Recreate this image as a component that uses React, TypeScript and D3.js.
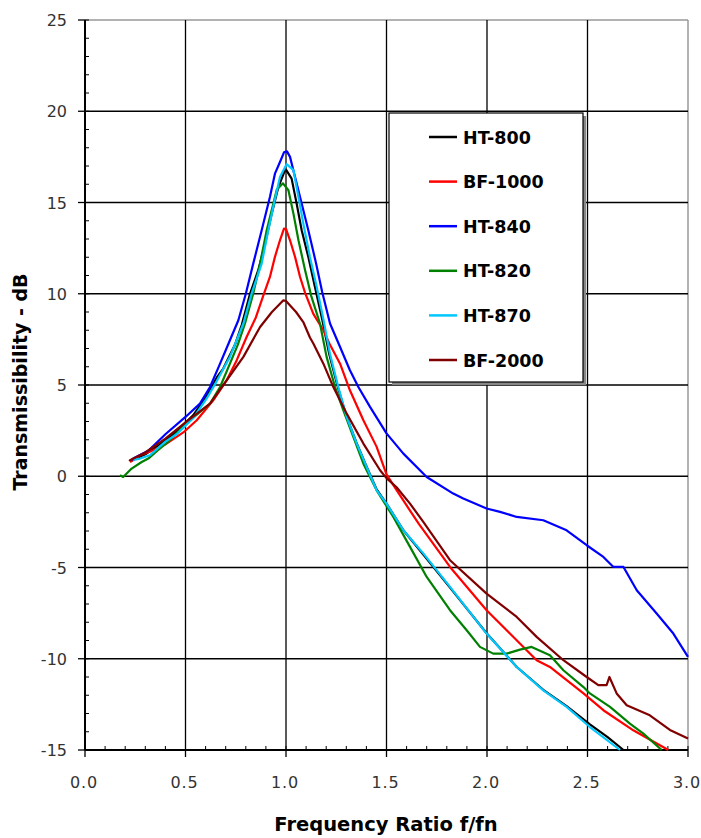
import React from "react";
import * as d3 from "d3";

type Pt = [number, number];

const seriesNames = ["HT-800", "BF-1000", "HT-840", "HT-820", "HT-870", "BF-2000"];
const seriesColors = ["#000000", "#ff0000", "#0000ff", "#008000", "#00c8ff", "#800000"];

const ht800: Pt[] = [
  [0.23, 0.85], [0.3, 1.2], [0.373, 1.75], [0.456, 2.45], [0.539, 3.35], [0.605, 4.4], [0.655, 5.4],
  [0.688, 5.9], [0.746, 7.2], [0.78, 8.3], [0.821, 10.0], [0.862, 11.29], [0.896, 12.75],
  [0.929, 14.39], [0.962, 15.85], [0.995, 16.77], [1.0, 16.8], [1.028, 16.31], [1.053, 14.94],
  [1.078, 13.48], [1.111, 12.02], [1.144, 10.37], [1.18, 8.6], [1.215, 6.7], [1.255, 5.0],
  [1.3, 3.3], [1.35, 1.85], [1.4, 0.55], [1.45, -0.7], [1.5, -1.5], [1.584, -2.96], [1.684, -4.3],
  [1.816, -6.1], [1.998, -8.6], [2.148, -10.45], [2.28, -11.7], [2.396, -12.6], [2.512, -13.6],
  [2.6, -14.3], [2.679, -15],
];

const bf1000: Pt[] = [
  [0.224, 0.78], [0.274, 1.15], [0.34, 1.42], [0.4, 1.75], [0.489, 2.4], [0.556, 3.07],
  [0.638, 4.16], [0.705, 5.26], [0.755, 6.36], [0.804, 7.63], [0.85, 8.7], [0.887, 9.9],
  [0.92, 10.92], [0.945, 12.02], [0.97, 12.93], [0.99, 13.57], [1.0, 13.55], [1.02, 12.93],
  [1.045, 12.02], [1.07, 10.92], [1.095, 10.05], [1.136, 8.9], [1.186, 8.0], [1.219, 7.2],
  [1.269, 6.17], [1.318, 4.71], [1.385, 3.07], [1.451, 1.61], [1.5, 0.1], [1.551, -0.77],
  [1.6, -1.6], [1.66, -2.6], [1.816, -4.97], [1.998, -7.34], [2.114, -8.62], [2.247, -10.08],
  [2.313, -10.45], [2.48, -11.9], [2.579, -12.82], [2.728, -13.92], [2.902, -15],
];

const ht840: Pt[] = [
  [0.23, 0.88], [0.24, 0.97], [0.315, 1.4], [0.4, 2.3], [0.5, 3.25], [0.572, 3.98],
  [0.622, 4.89], [0.672, 6.17], [0.721, 7.45], [0.763, 8.55], [0.8, 10.0], [0.837, 11.65],
  [0.879, 13.48], [0.92, 15.3], [0.945, 16.58], [0.97, 17.22], [0.99, 17.75], [1.005, 17.8],
  [1.02, 17.5], [1.045, 16.4], [1.078, 14.94], [1.111, 13.48], [1.15, 11.65], [1.18, 10.1],
  [1.219, 8.37], [1.269, 7.08], [1.318, 5.81], [1.36, 4.89], [1.418, 3.8], [1.5, 2.35],
  [1.584, 1.24], [1.7, -0.04], [1.832, -0.95], [1.882, -1.22], [1.998, -1.77], [2.065, -1.95],
  [2.148, -2.23], [2.28, -2.41], [2.396, -2.96], [2.496, -3.78], [2.579, -4.42], [2.629, -4.97],
  [2.679, -4.97], [2.745, -6.25], [2.844, -7.52], [2.927, -8.62], [3.0, -9.9],
];

const ht820: Pt[] = [
  [0.174, 0.05], [0.19, -0.04], [0.232, 0.42], [0.282, 0.78], [0.315, 0.97], [0.36, 1.4],
  [0.41, 1.85], [0.45, 2.3], [0.506, 2.9], [0.572, 3.52], [0.622, 3.98], [0.672, 4.89],
  [0.721, 6.17], [0.76, 7.2], [0.796, 8.37], [0.837, 10.01], [0.871, 11.65], [0.904, 13.48],
  [0.937, 14.94], [0.954, 15.7], [0.985, 16.05], [1.012, 15.67], [1.037, 14.39], [1.062, 12.93],
  [1.095, 11.29], [1.125, 9.9], [1.169, 8.37], [1.202, 6.54], [1.244, 4.89], [1.285, 3.62],
  [1.335, 2.16], [1.385, 0.69], [1.451, -0.77], [1.534, -2.23], [1.617, -3.87], [1.7, -5.52],
  [1.816, -7.34], [1.899, -8.44], [1.965, -9.35], [2.031, -9.72], [2.098, -9.72], [2.164, -9.5],
  [2.222, -9.35], [2.313, -9.81], [2.38, -10.63], [2.48, -11.55], [2.512, -11.9], [2.612, -12.64],
  [2.711, -13.55], [2.778, -14.1], [2.869, -15],
];

const ht870: Pt[] = [
  [0.24, 0.9], [0.274, 0.97], [0.323, 1.15], [0.4, 1.9], [0.456, 2.3], [0.539, 3.2],
  [0.605, 4.25], [0.655, 5.2], [0.721, 6.54], [0.788, 8.37], [0.829, 10.01], [0.879, 11.65],
  [0.912, 13.48], [0.942, 15.03], [0.97, 16.4], [1.003, 17.1], [1.037, 16.77], [1.062, 15.3],
  [1.086, 13.85], [1.119, 12.02], [1.153, 10.37], [1.186, 8.6], [1.219, 6.7], [1.26, 4.89],
  [1.302, 3.25], [1.352, 1.79], [1.401, 0.51], [1.451, -0.77], [1.5, -1.5], [1.584, -2.96],
  [1.684, -4.24], [1.816, -6.06], [1.998, -8.62], [2.148, -10.45], [2.28, -11.73],
  [2.396, -12.64], [2.512, -13.74], [2.662, -15],
];

const bf2000: Pt[] = [
  [0.22, 0.83], [0.224, 0.88], [0.3, 1.3], [0.4, 2.06], [0.5, 2.95], [0.622, 3.98],
  [0.705, 5.26], [0.788, 6.54], [0.871, 8.18], [0.93, 9.0], [0.987, 9.64], [1.0, 9.6],
  [1.05, 9.0], [1.086, 8.45], [1.119, 7.6], [1.136, 7.27], [1.186, 6.17], [1.235, 4.9],
  [1.302, 3.43], [1.385, 1.79], [1.468, 0.33], [1.5, -0.1], [1.55, -0.6], [1.617, -1.5],
  [1.683, -2.5], [1.816, -4.6], [1.998, -6.43], [2.148, -7.71], [2.247, -8.8], [2.38, -10.08],
  [2.496, -11.0], [2.554, -11.45], [2.595, -11.45], [2.609, -11.0], [2.645, -11.9],
  [2.695, -12.55], [2.81, -13.1], [2.91, -13.9], [3.0, -14.37],
];

const seriesData: Pt[][] = [ht800, bf1000, ht840, ht820, ht870, bf2000];

const xTicks = [0, 0.5, 1.0, 1.5, 2.0, 2.5, 3.0];
const yTicks = [25, 20, 15, 10, 5, 0, -5, -10, -15];
const xLabel = "Frequency Ratio f/fn";
const yLabel = "Transmissibility - dB";

const W = 701;
const H = 838;
const L = 85, R = 688, T = 20, B = 750;

export default function App() {
  const x = d3.scaleLinear().domain([0, 3]).range([L, R]);
  const y = d3.scaleLinear().domain([-15, 25]).range([B, T]);
  const line = d3
    .line<Pt>()
    .x((d) => x(d[0]))
    .y((d) => y(d[1]));

  const xMinor = d3.range(0, 31).map((i) => i / 10);
  const yMinor = d3.range(-15, 26);

  const font = "'DejaVu Sans', Verdana, sans-serif";

  const legX = 389, legY = 113, legW = 194, legH = 269;
  const rowY0 = 137, rowDy = 44.6;

  return (
    <svg
      width={W}
      height={H}
      style={{ position: "absolute", left: 0, top: 0, background: "#fff" }}
      fontFamily={font}
    >
      <rect x={0} y={0} width={W} height={H} fill="#fff" />
      <line x1={L} x2={R} y1={T} y2={T} stroke="#999" strokeWidth={1.5} />
      <line x1={R} x2={R} y1={T} y2={B} stroke="#999" strokeWidth={1.5} />
      {xTicks
        .filter((v) => v > 0 && v < 3)
        .map((v) => (
          <line key={"gx" + v} x1={x(v)} x2={x(v)} y1={T} y2={B} stroke="#000" strokeWidth={1.3} />
        ))}
      {yTicks
        .filter((v) => v > -15 && v < 25)
        .map((v) => (
          <line key={"gy" + v} x1={L} x2={R} y1={y(v)} y2={y(v)} stroke="#000" strokeWidth={1.3} />
        ))}
      {xMinor.map((v) => (
        <line key={"mx" + v} x1={x(v)} x2={x(v)} y1={B} y2={B - 4} stroke="#000" strokeWidth={1} />
      ))}
      {yMinor.map((v) => (
        <line key={"my" + v} x1={L} x2={L + 4} y1={y(v)} y2={y(v)} stroke="#000" strokeWidth={1} />
      ))}
      {xTicks.map((v) => (
        <line key={"tx" + v} x1={x(v)} x2={x(v)} y1={B} y2={B + 7} stroke="#000" strokeWidth={1.3} />
      ))}
      {yTicks.map((v) => (
        <line key={"ty" + v} x1={L - 7} x2={L} y1={y(v)} y2={y(v)} stroke="#000" strokeWidth={1.3} />
      ))}
      <line x1={L} x2={L} y1={T} y2={B} stroke="#000" strokeWidth={2} />
      <line x1={L} x2={R} y1={B} y2={B} stroke="#000" strokeWidth={2} />

      {xTicks.map((v) => (
        <text
          key={"lx" + v}
          x={x(v) - 1}
          y={788}
          textAnchor="middle"
          fontSize={16}
          fill="#333"
          letterSpacing={0.8}
        >
          {v.toFixed(1)}
        </text>
      ))}
      {yTicks.map((v) => (
        <text
          key={"ly" + v}
          x={67}
          y={y(v) + 6}
          textAnchor="end"
          fontSize={16}
          fill="#333"
        >
          {String(v)}
        </text>
      ))}

      <g fill="none" strokeWidth={2.2} strokeLinejoin="round">
        {seriesData.map((d, i) => (
          <path key={seriesNames[i]} d={line(d) || ""} stroke={seriesColors[i]} />
        ))}
      </g>

      <rect x={legX + 3} y={legY + 3} width={legW} height={legH} fill="#888" />
      <rect x={legX} y={legY} width={legW} height={legH} fill="#fff" stroke="#000" strokeWidth={1.2} />
      {seriesNames.map((n, i) => {
        const ry = rowY0 + i * rowDy;
        return (
          <g key={"leg" + n}>
            <line x1={429} x2={457} y1={ry} y2={ry} stroke={seriesColors[i]} strokeWidth={2.5} />
            <text x={463} y={ry + 6.5} fontSize={17.5} fontWeight="bold" fill="#000">
              {n}
            </text>
          </g>
        );
      })}

      <text x={386} y={831} textAnchor="middle" fontSize={19.5} fontWeight="bold" fill="#000">
        {xLabel}
      </text>
      <text
        transform={`translate(27, 382) rotate(-90)`}
        textAnchor="middle"
        fontSize={19}
        fontWeight="bold"
        fill="#000"
      >
        {yLabel}
      </text>
    </svg>
  );
}
